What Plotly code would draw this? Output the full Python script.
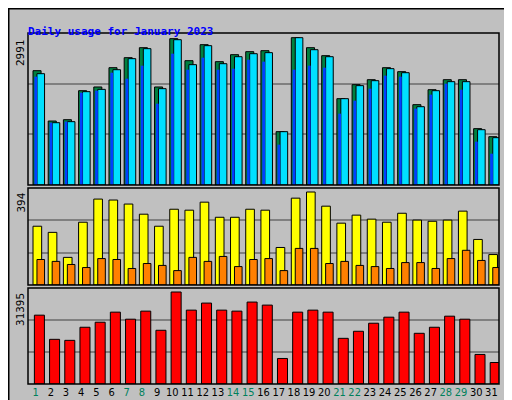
import plotly.graph_objects as go

days = list(range(1, 32))
weekend = [1, 7, 8, 14, 15, 21, 22, 28, 29]

hits = [2321, 1299, 1326, 1915, 1990, 2382, 2585, 2788, 1990, 2971, 2524, 2849, 2504, 2646, 2707, 2727,
        1083, 2991, 2788, 2626, 1753, 2037, 2138, 2382, 2301, 1631, 1935, 2138, 2138, 1144, 981]
files = [2260, 1265, 1286, 1895, 1942, 2341, 2565, 2768, 1956, 2950, 2443, 2829, 2463, 2605, 2666, 2687,
         1083, 2991, 2747, 2605, 1753, 2017, 2118, 2362, 2280, 1590, 1915, 2098, 2098, 1123, 961]
pages = [2199, 1265, 1286, 1874, 1915, 2280, 2159, 2423, 1651, 2666, 2341, 2585, 2341, 2362, 2544, 2504,
         819, 2341, 2423, 2382, 1448, 1712, 1956, 2220, 2199, 1550, 1834, 2057, 1935, 880, 636]
visits = [249, 223, 117, 266, 364, 360, 343, 300, 249, 321, 317, 351, 287, 287, 321, 317,
          159, 368, 394, 334, 262, 296, 279, 266, 304, 275, 270, 275, 313, 193, 129]
sites = [108, 100, 87, 74, 112, 108, 70, 91, 83, 61, 117, 100, 121, 78, 108, 112,
         61, 155, 155, 91, 100, 83, 78, 70, 95, 95, 70, 112, 147, 104, 74]
kbytes = [23489, 15239, 14895, 19364, 21083, 24520, 22114, 24864, 18333, 31395, 25208, 27614, 25208, 24864,
          27958, 26926, 8708, 24520, 25208, 24520, 15583, 17989, 20739, 22801, 24520, 17302, 19364, 23145,
          22114, 10083, 7333]

top1 = 3086
top2 = 411
top3 = 32760

fig = go.Figure()


def bar(y, axis, color, offset, width, line=1):
    fig.add_trace(go.Bar(x=days, y=y, xaxis="x" + axis[1:], yaxis=axis, marker_color=color,
                         marker_line_color="black", marker_line_width=line,
                         offset=offset, width=width, showlegend=False, hoverinfo="skip"))


bar(hits, "y", "#008040", -0.17, 0.53)
bar(files, "y", "#00E0FF", 0.09, 0.5)
bar(pages, "y", "#0040FF", -0.08, 0.18, 0)
bar(visits, "y2", "#FFFF00", -0.17, 0.57)
bar(sites, "y2", "#FF8000", 0.09, 0.5)
bar(kbytes, "y3", "#FF0000", -0.08, 0.66)

xdom = [20 / 512, 491 / 512]
ticktext = ['<span style="color:#00805C">%d</span>' % d if d in weekend else str(d) for d in days]
common_x = dict(domain=xdom, range=[0.5, 31.5], showgrid=False, zeroline=False,
                fixedrange=True, automargin=False)
grid = dict(showgrid=True, gridcolor="#808080", gridwidth=1.5, showticklabels=False,
            zeroline=False, ticks="", automargin=False)
fig.update_layout(
    width=512, height=400, margin=dict(l=0, r=0, t=0, b=0, autoexpand=False),
    paper_bgcolor="#C0C0C0", plot_bgcolor="#C0C0C0", barmode="overlay",
    font=dict(family="DejaVu Sans Mono", size=11, color="black"),
    xaxis=dict(common_x, anchor="y", showticklabels=False),
    xaxis2=dict(common_x, anchor="y2", showticklabels=False),
    xaxis3=dict(common_x, anchor="y3", tickvals=days, ticktext=ticktext, ticks="",
                tickangle=0, tickfont=dict(size=11, family="DejaVu Sans Condensed")),
    yaxis=dict(grid, domain=[1 - 177 / 400, 1 - 25 / 400], range=[0, top1],
               tickvals=[top1 / 3, 2 * top1 / 3], anchor="x"),
    yaxis2=dict(grid, domain=[1 - 277 / 400, 1 - 180 / 400], range=[0, top2],
                tickvals=[top2 / 3, 2 * top2 / 3], anchor="x2"),
    yaxis3=dict(grid, domain=[1 - 376 / 400, 1 - 280 / 400], range=[0, top3],
                tickvals=[top3 / 3, 2 * top3 / 3], anchor="x3"),
)

# panel frames and outer border
for y0, y1 in [(25, 177), (180, 277), (280, 376)]:
    fig.add_shape(type="rect", xref="paper", yref="paper", x0=xdom[0], x1=xdom[1],
                  y0=1 - y1 / 400, y1=1 - y0 / 400, line=dict(color="black", width=1.5))
fig.add_shape(type="rect", xref="paper", yref="paper", x0=0, x1=1, y0=0, y1=1,
              line=dict(color="black", width=3))

fig.add_annotation(x=18 / 512, y=1 - 15 / 400, xref="paper", yref="paper", xanchor="left",
                   text="<b>Daily usage for January 2023</b>", showarrow=False,
                   font=dict(size=11, color="#0000FF"))

for label, yp in [("2991", 29), ("394", 183), ("31395", 283)]:
    fig.add_annotation(x=4 / 512, y=1 - yp / 400, xref="paper", yref="paper",
                       xanchor="left", yanchor="top",
                       text=label, textangle=-90, showarrow=False, font=dict(size=11))

legends = [
    ('<span style="color:#00C0E0">Pages</span> / <span style="color:#0080FF">Files</span>'
     ' / <span style="color:#008040">Hits</span>', 100),
    ('<span style="color:#FF8000">Sites</span> / <span style="color:#E0E000">Visits</span>', 236),
    ('<span style="color:#FF0000">KBytes</span>', 352),
]
for txt, yp in legends:
    fig.add_annotation(x=493 / 512, y=1 - yp / 400, xref="paper", yref="paper", xanchor="left",
                       text=txt, textangle=-90, showarrow=False,
                       font=dict(size=11, color="#606060"))

fig.write_html("out.html")
